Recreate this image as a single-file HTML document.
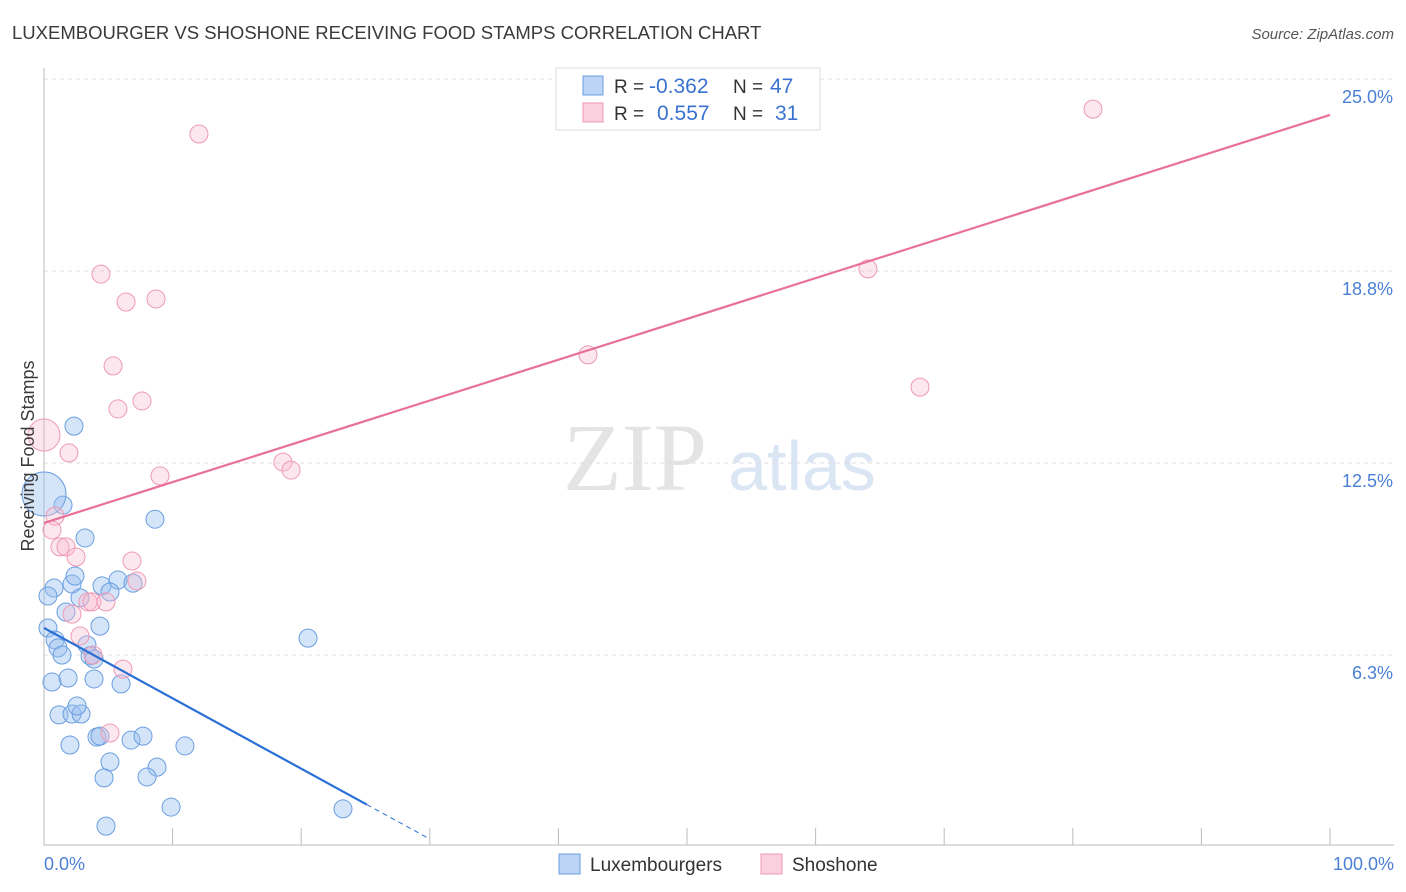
<!DOCTYPE html>
<html><head><meta charset="utf-8"><style>
body{margin:0;background:#fff;font-family:"Liberation Sans",sans-serif;}
svg{display:block}
</style></head><body>
<svg id="c" width="1406" height="892">
<text x="12" y="39" font-size="18.5" fill="#3a3a3a">LUXEMBOURGER VS SHOSHONE RECEIVING FOOD STAMPS CORRELATION CHART</text>
<text x="1394" y="39" font-size="15" fill="#555" font-style="italic" text-anchor="end">Source: ZipAtlas.com</text>
<text x="635" y="490" font-size="96" fill="#e4e4e4" font-family="Liberation Serif,serif" text-anchor="middle">ZIP</text>
<text x="802" y="490" font-size="70" fill="#dbe6f5" text-anchor="middle">atlas</text>
<g id="grid"></g>
<line x1="44" y1="68" x2="44" y2="845" stroke="#bbb"/>
<line x1="44" y1="845" x2="1394" y2="845" stroke="#bbb"/>
<g id="marks"></g>
<text x="28" y="456" font-size="18" fill="#3a3a3a" text-anchor="middle" transform="rotate(-90 28 456)" dy="6">Receiving Food Stamps</text>
<text x="44" y="870" font-size="18" fill="#4a7fd4">0.0%</text>
<text x="1394" y="870" font-size="18" fill="#4a7fd4" text-anchor="end">100.0%</text>
<g>
<rect x="556" y="68" width="264" height="62" fill="#fff" stroke="#ddd"/>
<rect x="583" y="76" width="20" height="19" fill="#bcd4f5" stroke="#6a9ee0"/>
<text x="614" y="93" font-size="19" fill="#333">R =</text>
<text x="649" y="93" font-size="21" fill="#3a72d0">-0.362</text>
<text x="733" y="93" font-size="19" fill="#333">N =</text>
<text x="770" y="93" font-size="21" fill="#3a72d0">47</text>
<rect x="583" y="103" width="20" height="19" fill="#fbd0de" stroke="#ee9ab5"/>
<text x="614" y="120" font-size="19" fill="#333">R =</text>
<text x="657" y="120" font-size="21" fill="#3a72d0">0.557</text>
<text x="733" y="120" font-size="19" fill="#333">N =</text>
<text x="775" y="120" font-size="21" fill="#3a72d0">31</text>
</g>
<g><rect x="559" y="854" width="21" height="20" fill="#bcd4f5" stroke="#6a9ee0"/><text x="590" y="871" font-size="19" fill="#333">Luxembourgers</text></g>
<g><rect x="761" y="854" width="21" height="20" fill="#fbd0de" stroke="#ee9ab5"/><text x="792" y="871" font-size="19" fill="#333">Shoshone</text></g>
</svg>
<script>
const yTicks=[6.3,12.5,18.8,25.0];
const yTickVals=[6.25,12.5,18.75,25];
const xTicks=[10,20,30,40,50,60,70,80,90,100];
const luxX=[2.33,1.48,8.63,3.19,0.78,0.31,2.18,2.41,4.51,5.75,5.13,6.92,2.80,1.71,4.35,0.31,0.86,1.09,1.40,3.34,3.58,3.89,0.62,1.87,3.89,5.99,20.53,1.17,2.18,2.88,2.57,2.02,4.12,4.35,6.77,7.70,10.96,5.13,4.67,8.79,8.01,9.88,23.25,4.82,0];
const luxY=[13.70,11.13,10.67,10.06,8.43,8.17,8.56,8.82,8.50,8.69,8.30,8.59,8.11,7.65,7.19,7.13,6.74,6.48,6.25,6.58,6.22,6.12,5.37,5.50,5.47,5.31,6.80,4.30,4.33,4.33,4.59,3.32,3.58,3.61,3.48,3.61,3.29,2.77,2.25,2.60,2.28,1.30,1.24,0.68,11.49];
const shoX=[12.05,81.57,4.43,6.38,8.71,64.07,5.37,7.62,5.75,42.30,68.12,0,1.94,9.02,18.58,19.21,0.86,0.62,1.24,1.71,2.49,6.84,7.23,3.42,3.73,4.82,2.18,2.80,3.81,6.14,5.13];
const shoY=[23.21,24.02,18.65,17.74,17.84,18.82,15.66,14.52,14.26,16.02,14.97,13.41,12.83,12.08,12.53,12.27,10.77,10.32,9.77,9.77,9.44,9.31,8.66,7.98,7.98,7.98,7.58,6.87,6.25,5.79,3.71];
const luxTrend=[7.13,-0.229];
const shoTrend=[10.55,0.1328];
const X=v=>44+12.86*v, Y=v=>847-30.72*v;
const NS="http://www.w3.org/2000/svg";
const grid=document.getElementById('grid'), marks=document.getElementById('marks');
function mk(p,tag,a){const e=document.createElementNS(NS,tag);for(const k in a)e.setAttribute(k,a[k]);p.appendChild(e);return e;}
yTickVals.forEach((v,i)=>{
 const l=mk(grid,'line',{x1:44,x2:1394,y1:Y(v),y2:Y(v),stroke:'#ddd','stroke-dasharray':'4,4'});
 
 
 const t=mk(grid,'text',{x:1393,y:Y(v)+24,'font-size':18,fill:'#4a7fd4','text-anchor':'end'});
 t.textContent=yTicks[i].toFixed(1)+'%';
 
 
});
xTicks.forEach(v=>{
 const l=mk(grid,'line',{x1:X(v),x2:X(v),y1:828,y2:845,stroke:'#bbb'});
 
 
});
luxX.forEach((x,i)=>{
 const r=i===luxX.length-1?22:9;
 const c=mk(marks,'circle',{cx:X(x),cy:Y(luxY[i]),r:r,fill:'rgba(150,190,240,0.4)',stroke:'#6a9ee0','stroke-width':1});
 
 
});
shoX.forEach((x,i)=>{
 const r=i===11?16:9;
 const c=mk(marks,'circle',{cx:X(x),cy:Y(shoY[i]),r:r,fill:'rgba(248,185,205,0.35)',stroke:'#ee9ab5','stroke-width':1});
 
 
});
const lt=x=>luxTrend[0]+luxTrend[1]*x, st=x=>shoTrend[0]+shoTrend[1]*x;
let a=mk(marks,'line',{x1:X(0),y1:Y(lt(0)),x2:X(25.1),y2:Y(lt(25.1)),stroke:'#2a6fd6','stroke-width':2.2});


a=mk(marks,'line',{x1:X(25.1),y1:Y(lt(25.1)),x2:X(30),y2:Y(lt(30)),stroke:'#2a6fd6','stroke-width':1,'stroke-dasharray':'5,4'});


a=mk(marks,'line',{x1:X(0),y1:Y(st(0)),x2:X(100),y2:Y(st(100)),stroke:'#e8709a','stroke-width':2.2});


</script>
</body></html>
